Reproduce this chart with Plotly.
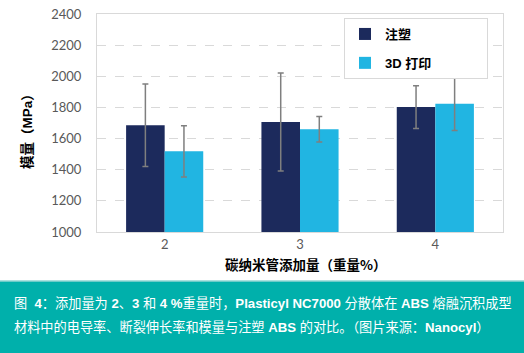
import plotly.graph_objects as go

categories = ["2", "3", "4"]
injection = [1685, 1706, 1802]
injection_err = [265, 315, 137]
printed = [1518, 1660, 1824]
printed_err = [165, 82, 172]
y_ticks = [1000, 1200, 1400, 1600, 1800, 2000, 2200, 2400]

W, H = 524, 353
L, R, T, B = 97, 21, 14, 121
pw, ph = W - L - R, H - T - B

def px(x):
    return (x - L) / pw

def py(y):
    return (H - B - y) / ph

NAVY = "#1c2a5c"
CYAN = "#21b5e2"
TEAL = "#00b0ab"
GREY = "#7f7f7f"
PAD = "\u00a0" * 14
SP = "\u00a0"

fig = go.Figure()
fig.add_trace(go.Bar(
    x=categories, y=injection, name="注塑" + PAD, marker=dict(color=NAVY, line=dict(width=0)),
    error_y=dict(type="data", array=injection_err, color=GREY, thickness=1.5, width=3),
    legendgroup="a"))
fig.add_trace(go.Bar(
    x=categories, y=printed, name="3D 打印" + PAD, marker=dict(color=CYAN, line=dict(width=0)),
    error_y=dict(type="data", array=printed_err, color=GREY, thickness=1.5, width=3),
    legendgroup="b"))

fig.update_layout(
    width=W, height=H, margin=dict(l=L, r=R, t=T, b=B, pad=0, autoexpand=False),
    paper_bgcolor="white", plot_bgcolor="white",
    barmode="group", bargap=0.43, bargroupgap=0,
    font=dict(family="Lato, Noto Sans CJK SC, sans-serif", size=13, color="#595959"),
    showlegend=True,
    legend=dict(x=px(344), y=py(18), xanchor="left", yanchor="top",
                bgcolor="white", bordercolor="#d9d9d9", borderwidth=1,
                font=dict(family="Liberation Sans, Noto Sans CJK SC", size=13, color="black", weight="bold"),
                tracegroupgap=9, traceorder="grouped", itemwidth=30),
)
fig.update_xaxes(type="category", showline=True, linecolor="#d9d9d9", linewidth=1, mirror=True,
                 showgrid=False, ticks="", tickfont=dict(size=13, color="#595959"), automargin=False)
fig.update_yaxes(range=[1000, 2400], tickvals=y_ticks, showline=True, linecolor="#d9d9d9",
                 linewidth=1, mirror=True, showgrid=True, gridcolor="#d9d9d9", griddash="dash",
                 gridwidth=1, ticks="", ticklabelstandoff=12, tickfont=dict(size=13, color="#595959"),
                 zeroline=False, automargin=False)

# axis titles
fig.add_annotation(text="<b>碳纳米管添加量（重量%）</b>", x=px(306), y=py(264), xref="paper", yref="paper",
                   xanchor="center", yanchor="middle", showarrow=False,
                   font=dict(family="Noto Sans CJK SC", size=13.5, color="black"))
fig.add_annotation(text="<b>模量（MPa）</b>", x=px(27), y=py(128), xref="paper", yref="paper",
                   xanchor="center", yanchor="middle", showarrow=False, textangle=-90,
                   font=dict(family="Liberation Sans, Noto Sans CJK SC", size=13.5, color="black"))

# caption band
fig.add_shape(type="rect", xref="paper", yref="paper", x0=px(-2), x1=px(W + 2), y0=py(281), y1=py(H + 2),
              fillcolor=TEAL, line=dict(width=0), layer="above")
fig.add_shape(type="line", xref="paper", yref="paper", x0=px(-2), x1=px(W + 2), y0=py(281), y1=py(281),
              line=dict(color="#8fd6d3", width=1.5), layer="above")

cap1 = ("图" + SP * 2 + "<b>4</b>：添加量为" + SP + "<b>2</b>、<b>3</b> 和" + SP
        + "<b>4 %</b>重量时，<b>Plasticyl NC7000</b> 分散体在 <b>ABS</b> 熔融沉积成型")
cap2 = "材料中的电导率、断裂伸长率和模量与注塑 <b>ABS</b> 的对比。（图片来源：<b>Nanocyl</b>）"
for txt, yy in [(cap1, 303), (cap2, 327)]:
    fig.add_annotation(text=txt, x=px(12), y=py(yy), xref="paper", yref="paper",
                       xanchor="left", yanchor="middle", showarrow=False,
                       font=dict(family="Liberation Sans, Noto Sans CJK SC", size=13.2, color="white"))

fig.write_html("out.html")
